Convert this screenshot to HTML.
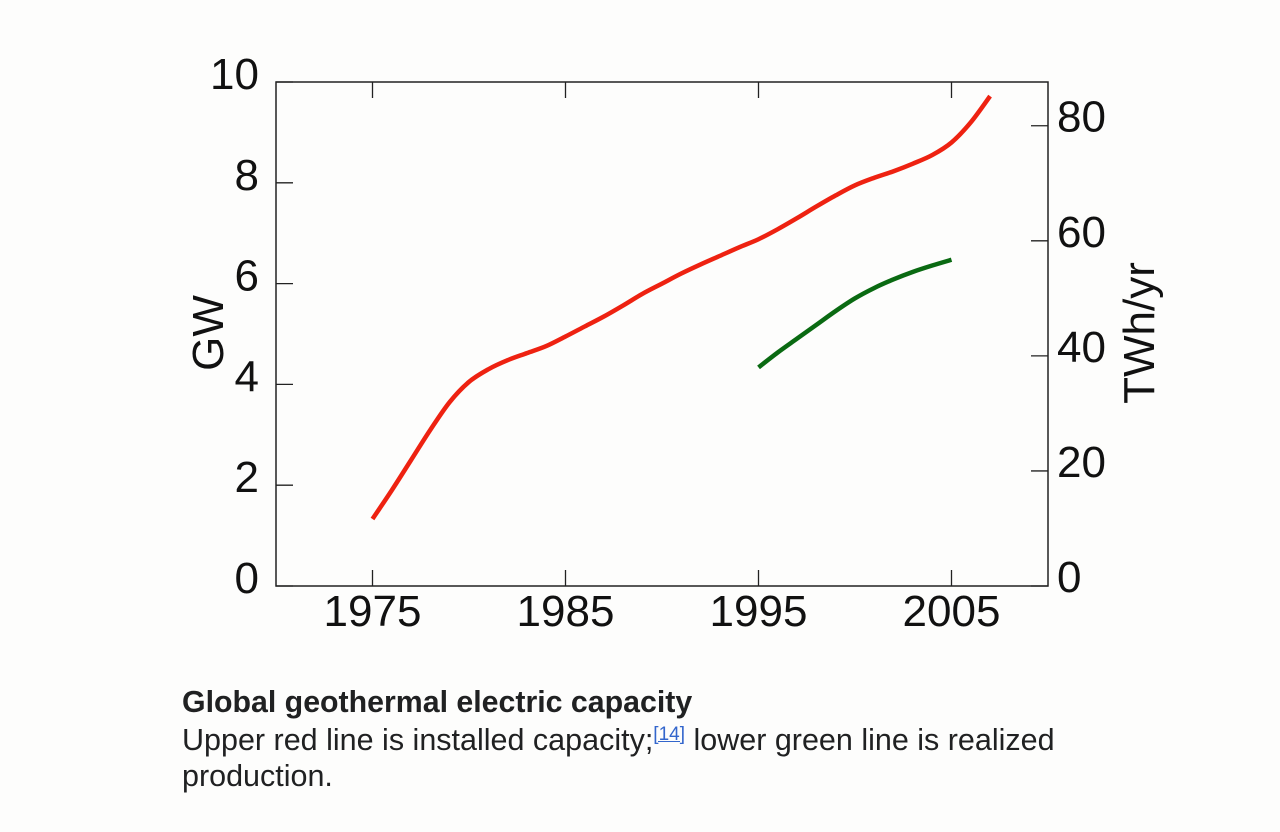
<!DOCTYPE html>
<html><head><meta charset="utf-8"><style>
body{margin:0;background:#fdfdfc;width:1280px;height:832px;overflow:hidden;font-family:"Liberation Sans",sans-serif}
#cap{position:absolute;left:182px;top:685px;font-size:30.5px;line-height:36.5px;color:#202122;width:895px}
#cap b{display:block;font-size:30.3px}
sup{font-size:19px;color:#3366cc;text-decoration:underline;vertical-align:10px;line-height:0}
</style></head><body>
<svg id="chart" width="1280" height="680" style="position:absolute;left:0;top:0" font-family="Liberation Sans, sans-serif"></svg>
<div id="cap"><b>Global geothermal electric capacity</b>Upper red line is installed capacity;<sup>[14]</sup> lower green line is realized production.</div>
<script>
const capYears=[1975,1976,1977,1978,1979,1980,1981,1982,1983,1984,1985,1986,1987,1988,1989,1990,1991,1992,1993,1994,1995,1996,1997,1998,1999,2000,2001,2002,2003,2004,2005,2006,2007];
const capGW=[1.33,1.9,2.5,3.1,3.65,4.05,4.3,4.48,4.62,4.76,4.95,5.15,5.35,5.57,5.8,6.0,6.2,6.38,6.55,6.72,6.88,7.08,7.3,7.53,7.75,7.95,8.1,8.23,8.38,8.55,8.8,9.2,9.72];
const prodYears=[1995,1996,1997,1998,1999,2000,2001,2002,2003,2004,2005];
const prodTWh=[38,40.6,43,45.4,47.8,50,51.8,53.3,54.6,55.7,56.7];
const xTicks=[1975,1985,1995,2005];
const yTicks=[0,2,4,6,8,10];
const y2Ticks=[0,20,40,60,80];
const L=276,R=1048,T=82,B=586;
const x=v=>L+(v-1970)/40*(R-L);
const y=v=>B-v/10*(B-T);
const y2=v=>B-v/87.6*(B-T);
const svg=document.getElementById('chart');
const NS='http://www.w3.org/2000/svg';
function mk(tag,at,txt){const e=document.createElementNS(NS,tag);for(const k in at)e.setAttribute(k,at[k]);if(txt!==undefined)e.textContent=txt;svg.appendChild(e);return e;}
let e=mk('rect',{x:L,y:T,width:R-L,height:B-T,fill:'none',stroke:'#222','stroke-width':1.5});


xTicks.forEach(t=>{
 e=mk('path',{d:`M${x(t)},${B}v-16M${x(t)},${T}v16`,stroke:'#222','stroke-width':1.3});
 
 
 e=mk('text',{x:x(t),y:626,'font-size':44,'text-anchor':'middle',fill:'#111'},t);
 
 
});
yTicks.forEach(t=>{
 e=mk('path',{d:`M${L},${y(t)}h17`,stroke:'#222','stroke-width':1.3});
 
 
 e=mk('text',{x:259,y:y(t)+7,'font-size':44,'text-anchor':'end',fill:'#111'},t);
 
 
});
y2Ticks.forEach(t=>{
 e=mk('path',{d:`M${R},${y2(t)}h-17`,stroke:'#222','stroke-width':1.3});
 
 
 e=mk('text',{x:1057,y:y2(t)+6,'font-size':44,'text-anchor':'start',fill:'#111'},t);
 
 
});
e=mk('text',{transform:'translate(223,333) rotate(-90)','font-size':44,'text-anchor':'middle',fill:'#111'},'GW');


e=mk('text',{transform:'translate(1154,333) rotate(-90)','font-size':44,'text-anchor':'middle',fill:'#111'},'TWh/yr');


function smooth(p){let d=`M${p[0][0]},${p[0][1]}`;for(let i=0;i<p.length-1;i++){const p0=p[i-1]||p[i],p1=p[i],p2=p[i+1],p3=p[i+2]||p2;d+=`C${p1[0]+(p2[0]-p0[0])/6},${p1[1]+(p2[1]-p0[1])/6} ${p2[0]-(p3[0]-p1[0])/6},${p2[1]-(p3[1]-p1[1])/6} ${p2[0]},${p2[1]}`;}return d;}
e=mk('path',{d:smooth(capYears.map((t,i)=>[x(t),y(capGW[i])])),fill:'none',stroke:'#ee2211','stroke-width':4.5});


e=mk('path',{d:smooth(prodYears.map((t,i)=>[x(t),y2(prodTWh[i])])),fill:'none',stroke:'#0a6a12','stroke-width':4.5});


</script>
</body></html>
